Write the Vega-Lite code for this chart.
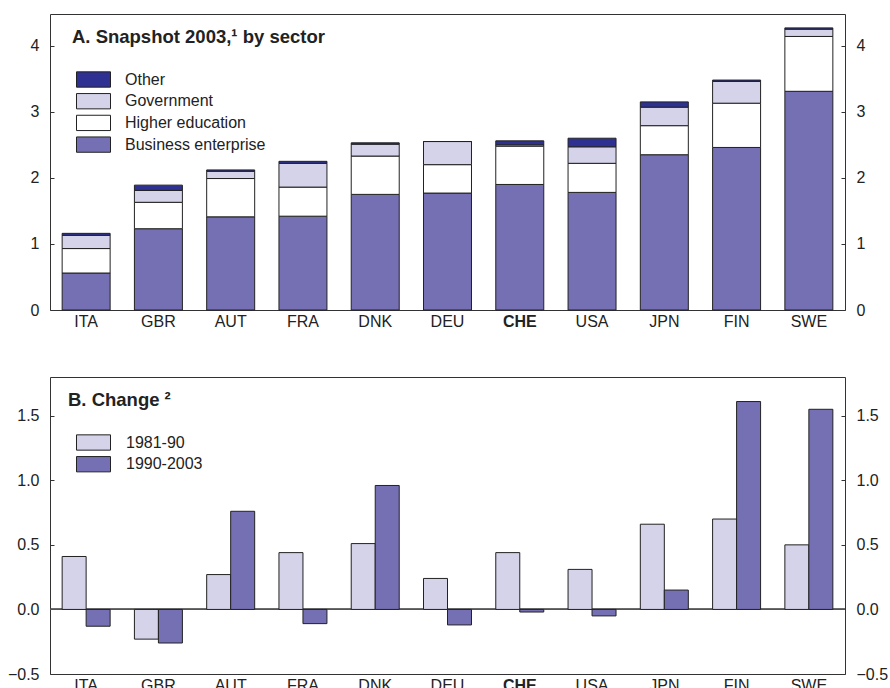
{
  "$schema": "https://vega.github.io/schema/vega-lite/v6.json",
  "padding": {"left": 6, "top": 13, "right": 0, "bottom": 0},
  "background": "white",
  "bounds": "flush",
  "spacing": 67,
  "resolve": {"scale": {"color": "independent"}, "legend": {"color": "independent"}},
  "config": {
    "font": "Liberation Sans",
    "view": {"stroke": "#333", "strokeWidth": 1},
    "axis": {"labelFont": "Liberation Sans", "labelFontSize": 16, "labelColor": "#222", "domain": false, "grid": false, "title": null},
    "legend": {"labelFont": "Liberation Sans", "labelFontSize": 16, "labelColor": "#222", "title": null}
  },
  "datasets": {
    "snapshot": [
      {"country": "ITA", "sector": "Business enterprise", "value": 0.56},
      {"country": "ITA", "sector": "Higher education", "value": 0.37},
      {"country": "ITA", "sector": "Government", "value": 0.20},
      {"country": "ITA", "sector": "Other", "value": 0.03},
      {"country": "GBR", "sector": "Business enterprise", "value": 1.23},
      {"country": "GBR", "sector": "Higher education", "value": 0.40},
      {"country": "GBR", "sector": "Government", "value": 0.18},
      {"country": "GBR", "sector": "Other", "value": 0.08},
      {"country": "AUT", "sector": "Business enterprise", "value": 1.41},
      {"country": "AUT", "sector": "Higher education", "value": 0.58},
      {"country": "AUT", "sector": "Government", "value": 0.11},
      {"country": "AUT", "sector": "Other", "value": 0.02},
      {"country": "FRA", "sector": "Business enterprise", "value": 1.42},
      {"country": "FRA", "sector": "Higher education", "value": 0.44},
      {"country": "FRA", "sector": "Government", "value": 0.36},
      {"country": "FRA", "sector": "Other", "value": 0.03},
      {"country": "DNK", "sector": "Business enterprise", "value": 1.75},
      {"country": "DNK", "sector": "Higher education", "value": 0.58},
      {"country": "DNK", "sector": "Government", "value": 0.18},
      {"country": "DNK", "sector": "Other", "value": 0.02},
      {"country": "DEU", "sector": "Business enterprise", "value": 1.77},
      {"country": "DEU", "sector": "Higher education", "value": 0.43},
      {"country": "DEU", "sector": "Government", "value": 0.35},
      {"country": "DEU", "sector": "Other", "value": 0.0},
      {"country": "CHE", "sector": "Business enterprise", "value": 1.90},
      {"country": "CHE", "sector": "Higher education", "value": 0.58},
      {"country": "CHE", "sector": "Government", "value": 0.02},
      {"country": "CHE", "sector": "Other", "value": 0.06},
      {"country": "USA", "sector": "Business enterprise", "value": 1.78},
      {"country": "USA", "sector": "Higher education", "value": 0.44},
      {"country": "USA", "sector": "Government", "value": 0.25},
      {"country": "USA", "sector": "Other", "value": 0.13},
      {"country": "JPN", "sector": "Business enterprise", "value": 2.35},
      {"country": "JPN", "sector": "Higher education", "value": 0.44},
      {"country": "JPN", "sector": "Government", "value": 0.28},
      {"country": "JPN", "sector": "Other", "value": 0.08},
      {"country": "FIN", "sector": "Business enterprise", "value": 2.46},
      {"country": "FIN", "sector": "Higher education", "value": 0.67},
      {"country": "FIN", "sector": "Government", "value": 0.33},
      {"country": "FIN", "sector": "Other", "value": 0.02},
      {"country": "SWE", "sector": "Business enterprise", "value": 3.31},
      {"country": "SWE", "sector": "Higher education", "value": 0.83},
      {"country": "SWE", "sector": "Government", "value": 0.11},
      {"country": "SWE", "sector": "Other", "value": 0.02}
    ],
    "change": [
      {"country": "ITA", "period": "1981-90", "value": 0.41},
      {"country": "ITA", "period": "1990-2003", "value": -0.13},
      {"country": "GBR", "period": "1981-90", "value": -0.23},
      {"country": "GBR", "period": "1990-2003", "value": -0.26},
      {"country": "AUT", "period": "1981-90", "value": 0.27},
      {"country": "AUT", "period": "1990-2003", "value": 0.76},
      {"country": "FRA", "period": "1981-90", "value": 0.44},
      {"country": "FRA", "period": "1990-2003", "value": -0.11},
      {"country": "DNK", "period": "1981-90", "value": 0.51},
      {"country": "DNK", "period": "1990-2003", "value": 0.96},
      {"country": "DEU", "period": "1981-90", "value": 0.24},
      {"country": "DEU", "period": "1990-2003", "value": -0.12},
      {"country": "CHE", "period": "1981-90", "value": 0.44},
      {"country": "CHE", "period": "1990-2003", "value": -0.02},
      {"country": "USA", "period": "1981-90", "value": 0.31},
      {"country": "USA", "period": "1990-2003", "value": -0.05},
      {"country": "JPN", "period": "1981-90", "value": 0.66},
      {"country": "JPN", "period": "1990-2003", "value": 0.15},
      {"country": "FIN", "period": "1981-90", "value": 0.70},
      {"country": "FIN", "period": "1990-2003", "value": 1.61},
      {"country": "SWE", "period": "1981-90", "value": 0.50},
      {"country": "SWE", "period": "1990-2003", "value": 1.55}
    ]
  },
  "vconcat": [
    {
      "width": 795,
      "height": 296,
      "data": {"name": "snapshot"},
      "transform": [
        {"calculate": "indexof(['Business enterprise', 'Higher education', 'Government', 'Other'], datum.sector)", "as": "stackOrder"}
      ],
      "title": {"text": "A. Snapshot 2003,¹ by sector", "anchor": "start", "frame": "group", "orient": "top", "offset": 0, "baseline": "alphabetic", "dx": 22, "dy": 47, "fontSize": 18.5, "fontWeight": "bold", "font": "Liberation Sans", "color": "#222"},
      "layer": [
        {
          "mark": {"type": "bar", "stroke": "#222", "strokeWidth": 1},
          "encoding": {
            "x": {"field": "country", "type": "nominal", "sort": null, "scale": {"paddingInner": 0.336, "paddingOuter": 0.168},
              "axis": {"orient": "bottom", "ticks": false, "labelAngle": 0, "labelPadding": 3,
                "labelFontWeight": {"condition": {"test": "datum.value === 'CHE'", "value": "bold"}, "value": "normal"}}},
            "y": {"field": "value", "type": "quantitative", "stack": "zero", "scale": {"domain": [0, 4.48], "nice": false},
              "axis": {"orient": "left", "values": [0, 1, 2, 3, 4], "format": "d", "tickSize": -4, "tickColor": "#333", "labelPadding": 15}},
            "order": {"field": "stackOrder", "type": "quantitative", "sort": "ascending"},
            "color": {"field": "sector", "type": "nominal",
              "scale": {"domain": ["Other", "Government", "Higher education", "Business enterprise"], "range": ["#2e3192", "#d4d3ea", "#ffffff", "#7570b3"]},
              "legend": {"orient": "none", "legendX": 34.5, "legendY": 56.5, "symbolType": "M-2,-0.9H2V0.9H-2Z", "symbolSize": 289, "symbolStrokeColor": "#222", "symbolStrokeWidth": 1, "symbolOpacity": 1, "labelOffset": 22.5, "rowPadding": 1.7}}
          }
        },
        {
          "mark": {"type": "rule", "opacity": 0},
          "encoding": {
            "y": {"datum": 0, "type": "quantitative",
              "axis": {"orient": "right", "values": [0, 1, 2, 3, 4], "format": "d", "tickSize": -4, "tickColor": "#333", "labelPadding": 15}}
          }
        }
      ],
      "resolve": {"axis": {"y": "independent"}}
    },
    {
      "width": 795,
      "height": 297,
      "data": {"name": "change"},
      "title": {"text": "B. Change ²", "anchor": "start", "frame": "group", "orient": "top", "offset": 0, "baseline": "alphabetic", "dx": 18, "dy": 47, "fontSize": 18.5, "fontWeight": "bold", "font": "Liberation Sans", "color": "#222"},
      "layer": [
        {
          "mark": {"type": "rule", "color": "#555", "strokeWidth": 1},
          "encoding": {
            "y": {"datum": 0, "type": "quantitative", "axis": null}
          }
        },
        {
          "mark": {"type": "bar", "stroke": "#222", "strokeWidth": 1},
          "encoding": {
            "x": {"field": "country", "type": "nominal", "sort": null, "scale": {"paddingInner": 0.336, "paddingOuter": 0.168},
              "axis": {"orient": "bottom", "ticks": false, "labelAngle": 0, "labelPadding": 3,
                "labelFontWeight": {"condition": {"test": "datum.value === 'CHE'", "value": "bold"}, "value": "normal"}}},
            "xOffset": {"field": "period", "type": "nominal", "scale": {"paddingInner": 0, "paddingOuter": 0}},
            "y": {"field": "value", "type": "quantitative", "scale": {"domain": [-0.5, 1.8], "nice": false},
              "axis": {"orient": "left", "values": [-0.5, 0, 0.5, 1, 1.5], "format": ".1f", "tickSize": -4, "tickColor": "#333", "labelPadding": 15}},
            "color": {"field": "period", "type": "nominal",
              "scale": {"domain": ["1981-90", "1990-2003"], "range": ["#d4d3ea", "#7570b3"]},
              "legend": {"orient": "none", "legendX": 34.5, "legendY": 56.5, "symbolType": "M-2,-0.9H2V0.9H-2Z", "symbolSize": 289, "symbolStrokeColor": "#222", "symbolStrokeWidth": 1, "symbolOpacity": 1, "labelOffset": 23.5, "rowPadding": 1.7}}
          }
        },
        {
          "mark": {"type": "rule", "opacity": 0},
          "encoding": {
            "y": {"datum": 0, "type": "quantitative",
              "axis": {"orient": "right", "values": [-0.5, 0, 0.5, 1, 1.5], "format": ".1f", "tickSize": -4, "tickColor": "#333", "labelPadding": 15}}
          }
        }
      ],
      "resolve": {"axis": {"y": "independent"}}
    }
  ]
}
